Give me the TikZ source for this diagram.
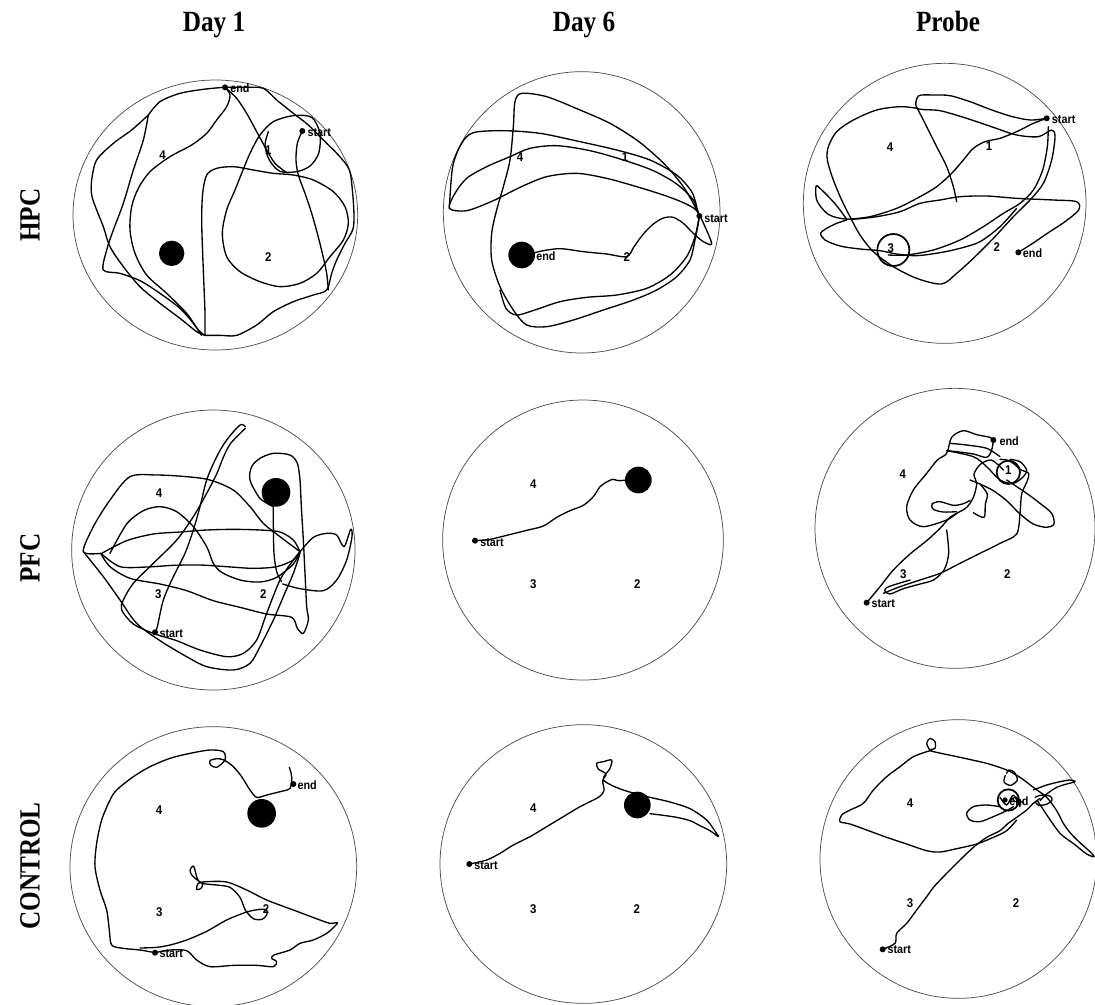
\documentclass[tikz,border=0pt]{standalone}
\usepackage{fontspec}
\setmainfont{Liberation Serif}
\newfontfamily\hdfont[FakeStretch=0.86]{Liberation Serif}
\newfontfamily\lblfont[FakeStretch=0.9]{Liberation Sans}
\tikzset{
  pool/.style={draw=black!70, line width=0.55pt},
  trk/.style={draw=black, line width=1.0pt, line join=round, line cap=round},
  ring/.style={draw=black, line width=1.3pt},
  num/.style={font=\lblfont\bfseries\fontsize{9.5}{9.5}\selectfont, inner sep=0pt},
  tag/.style={font=\lblfont\bfseries\fontsize{9}{9}\selectfont, inner sep=0pt, anchor=west},
  head/.style={font=\hdfont\bfseries\fontsize{22}{22}\selectfont, inner sep=0pt},
  panel/.style={x=0.25pt, y=-0.25pt},
}
\newcommand{\trace}[1]{\draw[trk] plot[smooth, tension=0.5] coordinates {#1};}
\begin{document}
\begin{tikzpicture}[x=0.75pt, y=-0.75pt]
\useasboundingbox (0,0) rectangle (1095,1004);

% column and row headings
\node[head, anchor=base] (h1) at (214,31) {Day 1};
\node[head, anchor=base] (h2) at (584,31) {Day 6};
\node[head, anchor=base] (h3) at (948,31) {Probe};
\node[head, rotate=90] (r1) at (30,215) {HPC};
\node[head, rotate=90] (r2) at (30,558) {PFC};
\node[head, rotate=90] (r3) at (30,866) {CONTROL};

% ---------- HPC, day 1
\begin{scope}[shift={(60,60)}, panel]
\draw[pool] (466,465) ellipse [x radius=427, y radius=405];
\trace{(265,165) (300,125) (360,100) (430,88) (495,82) (560,82) (610,85) (650,120) (700,160) (745,195) (790,240) (835,285) (868,330) (878,400) (882,470) (878,510) (855,550) (830,600) (815,640) (800,690) (760,705) (700,725) (640,755) (590,795) (530,826) (480,826) (435,826)}
\trace{(495,82) (510,105) (500,140) (470,180) (440,220) (395,255) (330,290) (270,335) (235,385) (215,440) (210,510) (225,580) (260,645) (320,700) (380,760) (415,810) (435,826)}
\trace{(265,165) (215,210) (160,250) (110,300) (95,360) (95,405) (110,450) (130,500) (150,560) (190,620) (240,680) (300,730) (360,775) (410,815) (435,826)}
\trace{(265,165) (250,240) (220,330) (190,430) (160,510) (140,570) (130,630) (180,640) (240,662) (300,700) (360,745) (400,790) (425,826)}
\trace{(435,826) (435,760) (432,680) (428,580) (425,480) (428,400) (440,345) (470,325) (520,320) (580,330) (640,340) (700,345) (760,360) (820,395) (855,440) (865,490) (850,540) (810,590) (770,640) (720,670) (660,680) (600,665) (540,635) (500,590) (487,520) (500,450) (525,390) (545,340) (570,280) (600,225) (640,185) (700,167) (755,172) (780,220) (776,280) (750,318) (710,335) (660,334) (628,300) (615,255) (625,215)}
\trace{(727,213) (712,250) (708,300) (715,345) (735,400) (755,460) (772,520) (787,580) (800,640) (805,690)}
\trace{(495,82) (530,115) (560,160) (590,215) (620,270) (645,310) (680,338)}
\fill (335,580) circle [radius=38];
\fill (495,82) circle [radius=9];
\node[tag] (p1e) at (510,86) {end};
\fill (727,213) circle [radius=9];
\node[tag] (p1s) at (742,217) {start};
\node[num] (p1n4) at (308,285) {4};
\node[num] (p1n1) at (625,270) {1};
\node[num] (p1n2) at (625,590) {2};
\end{scope}

% ---------- HPC, day 6
\begin{scope}[shift={(430,60)}, panel]
\draw[pool] (455,457) ellipse [x radius=415, y radius=422];
\trace{(808,468) (790,430) (760,380) (720,330) (680,290) (620,240) (540,190) (450,150) (350,110) (275,100) (255,125) (250,200) (240,300) (220,380) (200,450) (185,520) (185,600) (210,680) (250,750) (290,795) (350,800) (430,780) (520,750) (610,720) (680,690) (740,650) (780,600) (795,540) (805,490) (808,468)}
\trace{(808,468) (790,420) (740,372) (670,332) (580,300) (480,272) (380,257) (300,265) (240,290) (170,320) (110,355) (75,400) (58,445) (110,452) (190,422) (270,382) (350,350) (440,340) (530,355) (620,380) (700,405) (760,428) (800,452) (825,500) (845,552) (820,545) (790,520) (760,490) (730,472) (700,474) (670,492) (640,522) (612,560) (590,590) (530,582) (460,575) (390,566) (330,574) (295,585)}
\trace{(58,445) (68,320) (95,250) (130,218) (220,212) (330,220) (450,245) (560,270) (660,300) (740,345) (785,395) (800,440)}
\trace{(808,468) (795,530) (770,590) (720,645) (650,685) (560,705) (470,712) (390,725) (320,748) (260,765) (228,745) (210,690)}
\fill (275,585) circle [radius=40];
\node[tag] (p2e) at (318,588) {end};
\fill (808,468) circle [radius=9];
\node[tag] (p2s) at (822,475) {start};
\node[num] (p2n4) at (270,290) {4};
\node[num] (p2n1) at (585,290) {1};
\node[num] (p2n2) at (590,590) {2};
\end{scope}

% ---------- HPC, probe
\begin{scope}[shift={(800,60)}, panel]
\draw[pool] (434,430) ellipse [x radius=424, y radius=420];
\trace{(740,175) (690,180) (630,168) (570,148) (510,125) (450,107) (400,105) (355,108) (352,145) (420,152) (500,175) (580,202) (650,225) (715,230) (755,210) (765,230) (755,300) (730,370) (690,420) (640,470) (580,535) (520,595) (470,640) (425,672) (350,655) (280,620) (220,575) (180,525) (150,470) (125,420) (100,360) (82,300) (85,260) (110,215) (160,180) (230,150) (300,140) (352,145)}
\trace{(352,145) (380,200) (410,260) (440,320) (460,380) (470,425)}
\trace{(745,200) (742,260) (728,330) (700,390) (660,430) (610,460) (550,500) (480,540) (400,570) (320,585) (265,585)}
\trace{(740,175) (700,190) (650,215) (600,235) (555,245) (520,265) (490,300) (455,340) (410,380) (360,410) (290,445) (210,470) (140,478)}
\trace{(140,478) (120,450) (95,420) (60,385) (48,378) (50,420) (75,455) (100,470) (150,478) (230,470) (300,455) (360,430) (420,420) (480,410) (560,408) (650,415) (760,420) (830,425) (836,450) (795,485) (745,518) (695,552) (655,577)}
\trace{(140,480) (110,490) (80,505) (62,520) (75,540) (120,558) (180,567) (240,572) (290,582) (350,587) (420,578) (480,565) (540,545) (600,500) (650,445)}
\draw[ring] (280,570) circle [radius=48];
\fill (740,175) circle [radius=9];
\node[tag] (p3s) at (755,180) {start};
\fill (655,577) circle [radius=9];
\node[tag] (p3e) at (668,580) {end};
\node[num] (p3n4) at (270,262) {4};
\node[num] (p3n1) at (567,258) {1};
\node[num] (p3n2) at (590,560) {2};
\node[num] (p3n3) at (272,565) {3};
\end{scope}

% ---------- PFC, day 1
\begin{scope}[shift={(60,380)}, panel]
\draw[pool] (460,510) ellipse [x radius=425, y radius=420];
\trace{(640,380) (600,355) (570,300) (575,260) (600,235) (640,220) (690,225) (712,250) (720,300) (724,380) (730,480) (735,580) (740,680) (745,720) (730,760) (712,745) (695,712) (620,702) (540,682) (460,662) (380,632) (300,612) (210,595) (150,560) (122,520)}
\trace{(640,378) (640,440) (642,520) (650,575) (665,605)}
\trace{(122,520) (70,515) (100,440) (150,360) (210,290) (290,285) (380,290) (450,300) (520,330) (570,380) (610,430) (660,470) (700,500) (720,515)}
\trace{(556,140) (540,135) (500,180) (470,230) (440,300) (420,380) (400,450) (375,520) (340,590) (310,660) (292,740) (285,757)}
\trace{(556,145) (512,190) (490,232) (470,282) (440,340) (400,410) (350,480) (280,550) (220,610) (190,660) (185,690) (220,732) (280,760) (350,782) (420,810) (500,830) (550,820) (590,780) (620,700) (660,600) (700,540) (720,515)}
\trace{(70,515) (130,590) (180,660) (230,730) (300,782) (380,830) (440,860) (520,870) (570,850) (600,800) (640,720) (670,650) (700,580) (720,520)}
\trace{(125,520) (200,482) (280,462) (360,456) (440,450) (520,448) (600,450) (660,456) (700,480) (720,515)}
\trace{(125,522) (180,560) (260,561) (340,556) (420,555) (500,560) (580,565) (650,560) (700,540) (720,515)}
\trace{(150,520) (200,432) (250,392) (300,380) (350,395) (400,440) (440,500) (460,550) (485,577) (540,600) (600,606) (650,592) (700,552) (720,515)}
\trace{(720,515) (760,472) (800,460) (830,465) (852,500) (872,448) (876,470) (860,540) (830,600) (790,632) (720,626) (668,612)}
\fill (648,337) circle [radius=43];
\fill (285,757) circle [radius=9];
\node[tag] (p4s) at (298,760) {start};
\node[num] (p4n4) at (297,340) {4};
\node[num] (p4n3) at (295,643) {3};
\node[num] (p4n2) at (610,643) {2};
\end{scope}

% ---------- PFC, day 6
\begin{scope}[shift={(430,390)}, panel]
\draw[pool] (459,450) ellipse [x radius=421, y radius=420];
\trace{(135,452) (180,448) (230,436) (290,421) (340,408) (380,382) (420,362) (460,346) (490,320) (510,290) (530,276) (548,268) (565,272) (590,270)}
\fill (625,270) circle [radius=40];
\fill (135,452) circle [radius=9];
\node[tag] (p5s) at (150,458) {start};
\node[num] (p5n4) at (310,283) {4};
\node[num] (p5n3) at (310,583) {3};
\node[num] (p5n2) at (622,583) {2};
\end{scope}

% ---------- PFC, probe
\begin{scope}[shift={(800,380)}, panel]
\draw[pool] (465,445) ellipse [x radius=420, y radius=420];
\trace{(200,668) (240,620) (280,570) (330,522) (380,482) (420,445) (450,412) (470,400) (500,382) (520,352) (530,312) (522,282) (542,252) (572,240) (595,255) (610,270)}
\trace{(470,400) (440,420) (370,440) (330,420) (320,380) (340,330) (380,280) (412,240) (440,220) (455,172) (490,152) (530,164) (570,172) (580,180)}
\trace{(580,180) (575,210) (560,232) (520,222) (470,215) (440,212)}
\trace{(620,300) (680,340) (720,370) (755,400) (762,432) (740,442) (700,432) (660,402) (620,362) (580,332) (540,312) (510,300)}
\trace{(250,640) (300,620) (360,600) (420,580) (480,550) (540,520) (600,490) (650,462) (660,400) (665,342) (682,302) (686,280) (660,268) (640,250) (620,240) (600,238)}
\trace{(470,395) (430,396) (400,388) (396,372) (420,365) (460,376) (490,371) (510,361)}
\trace{(440,450) (446,520) (432,570) (400,600) (360,612) (310,626) (270,642) (254,632) (266,620) (330,600)}
\trace{(520,398) (552,412) (556,372) (562,342) (540,312)}
\trace{(440,212) (520,230) (560,260) (600,300) (640,310) (670,290) (680,270) (660,245) (630,238)}
\trace{(450,190) (500,195) (560,205) (600,230)}
\draw[ring] (625,277) circle [radius=35];
\node[num] (p6n1) at (625,270) {1};
\fill (580,180) circle [radius=9];
\node[tag] (p6e) at (598,183) {end};
\fill (200,668) circle [radius=9];
\node[tag] (p6s) at (214,670) {start};
\node[num] (p6n4) at (308,283) {4};
\node[num] (p6n3) at (310,583) {3};
\node[num] (p6n2) at (622,583) {2};
\end{scope}

% ---------- CONTROL, day 1
\begin{scope}[shift={(60,710)}, panel]
\draw[pool] (460,470) ellipse [x radius=430, y radius=420];
\trace{(285,728) (240,720) (190,715) (155,705) (148,660) (140,600) (120,540) (105,470) (110,400) (125,330) (150,270) (170,240) (220,200) (270,170) (330,145) (390,130) (450,120) (490,125) (495,150) (470,172) (452,165) (450,152) (470,146) (492,150) (520,170) (545,200) (570,240) (590,262) (620,255) (660,245) (690,235) (695,200) (688,172)}
\trace{(285,728) (330,720) (380,722) (410,750) (450,770) (520,766) (590,766) (640,770) (650,755) (635,745) (642,735) (690,720) (720,700) (760,690) (800,670) (825,648) (832,638) (810,640) (780,630) (700,600) (620,570) (560,540) (500,516) (440,515) (415,520) (410,538) (422,536) (428,522) (412,510) (396,496) (390,480) (400,468) (407,488) (412,506) (425,520) (470,525) (510,532) (540,562) (556,600) (580,626) (606,628) (620,615) (620,600) (600,598) (560,606) (500,630) (440,664) (380,690) (330,705) (290,712) (240,714)}
\fill (605,310) circle [radius=43];
\fill (700,222) circle [radius=9];
\node[tag] (p7e) at (712,225) {end};
\fill (285,728) circle [radius=9];
\node[tag] (p7s) at (298,730) {start};
\node[num] (p7n4) at (297,300) {4};
\node[num] (p7n3) at (298,605) {3};
\node[num] (p7n2) at (618,598) {2};
\end{scope}

% ---------- CONTROL, day 6
\begin{scope}[shift={(430,710)}, panel]
\draw[pool] (460,462) ellipse [x radius=430, y radius=418];
\trace{(118,462) (170,450) (210,430) (250,405) (300,380) (350,350) (400,320) (450,290) (505,262) (522,242) (518,212) (528,192) (505,177) (500,160) (520,155) (545,150) (540,175) (525,195) (520,210) (545,226) (580,240) (620,252) (660,262) (720,276) (780,296) (830,330) (858,368) (865,380) (840,362) (810,347) (780,332) (740,322) (700,316) (660,311)}
\fill (622,285) circle [radius=40];
\fill (118,462) circle [radius=9];
\node[tag] (p8s) at (132,467) {start};
\node[num] (p8n4) at (310,295) {4};
\node[num] (p8n3) at (310,598) {3};
\node[num] (p8n2) at (620,598) {2};
\end{scope}

% ---------- CONTROL, probe
\begin{scope}[shift={(800,710)}, panel]
\draw[pool] (475,447) ellipse [x radius=415, y radius=418];
\trace{(248,718) (285,700) (290,670) (320,640) (350,600) (380,560) (402,530) (440,490) (480,450) (520,412) (560,382) (600,362) (622,342) (650,322) (680,300) (700,280) (720,265)}
\trace{(390,122) (380,100) (390,85) (405,95) (405,115) (390,122) (480,142) (560,160) (620,180) (660,202) (700,232) (740,262) (770,302) (790,340) (812,370) (842,400) (870,425) (882,440) (860,432) (822,402) (782,372) (752,332) (732,302) (712,272)}
\trace{(390,122) (340,140) (300,170) (260,200) (220,240) (190,280) (150,300) (125,315) (120,335) (150,342) (200,360) (260,382) (320,402) (380,422) (420,426) (470,416) (530,402) (580,382) (620,362) (650,330)}
\trace{(700,240) (740,225) (780,215) (810,210) (825,215) (800,222) (770,232) (740,252) (720,272)}
\trace{(600,290) (560,285) (520,290) (500,310) (510,330) (540,335) (580,320) (620,302) (640,290)}
\trace{(620,190) (626,180) (642,186) (652,210) (632,226) (612,216) (616,196)}
\trace{(706,262) (720,256) (750,258) (756,270) (742,282) (716,286) (706,276)}
\trace{(600,262) (620,285) (640,255) (660,290) (650,262) (630,272) (670,276)}
\draw[ring] (625,270) circle [radius=32];
\fill (615,270) circle [radius=8];
\node[tag] (p9e) at (627,273) {end};
\fill (248,718) circle [radius=9];
\node[tag] (p9s) at (262,720) {start};
\node[num] (p9n4) at (330,278) {4};
\node[num] (p9n3) at (330,578) {3};
\node[num] (p9n2) at (648,578) {2};
\end{scope}
\end{tikzpicture}
\end{document}
